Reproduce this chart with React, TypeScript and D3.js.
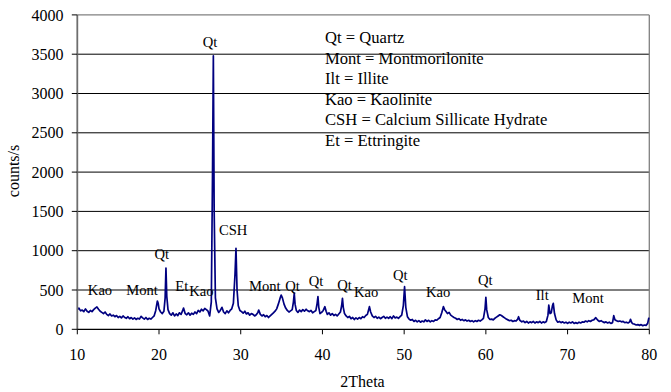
import React from "react";
import * as d3 from "d3";

// 2Theta (deg) vs counts/s
const xrdPattern: [number, number][] = [
  [10.0, 250], [10.2, 270], [10.4, 235], [10.6, 245], [10.8, 225], [11.0, 260], [11.2, 230], [11.4, 215],
  [11.6, 240], [11.8, 225], [12.0, 250], [12.2, 270], [12.4, 285], [12.6, 255], [12.8, 230], [13.0, 215],
  [13.2, 200], [13.4, 220], [13.6, 190], [13.8, 175], [14.0, 195], [14.2, 170], [14.4, 180], [14.6, 160],
  [14.8, 175], [15.0, 150], [15.2, 165], [15.4, 145], [15.6, 170], [15.8, 150], [16.0, 140], [16.2, 160],
  [16.4, 135], [16.6, 150], [16.8, 130], [17.0, 145], [17.2, 125], [17.4, 140], [17.6, 130], [17.8, 165],
  [18.0, 145], [18.2, 130], [18.4, 150], [18.6, 125], [18.8, 140], [19.0, 130], [19.2, 150], [19.4, 170],
  [19.6, 240], [19.8, 360], [19.9, 330], [20.0, 260], [20.2, 220], [20.4, 200], [20.6, 230], [20.75, 400],
  [20.85, 780], [20.95, 420], [21.1, 250], [21.3, 200], [21.5, 180], [21.7, 210], [21.9, 170], [22.1, 195],
  [22.3, 175], [22.5, 210], [22.7, 190], [22.9, 240], [23.0, 270], [23.2, 200], [23.4, 185], [23.6, 210],
  [23.8, 180], [24.0, 205], [24.2, 190], [24.4, 220], [24.6, 200], [24.8, 240], [25.0, 220], [25.2, 255],
  [25.4, 235], [25.6, 265], [25.8, 250], [26.0, 230], [26.2, 170], [26.4, 350], [26.55, 2000], [26.65, 3480],
  [26.75, 1500], [26.9, 400], [27.1, 260], [27.3, 215], [27.5, 240], [27.7, 280], [27.9, 220], [28.1, 200],
  [28.3, 235], [28.5, 210], [28.7, 240], [28.9, 260], [29.1, 330], [29.3, 700], [29.42, 1030], [29.55, 500],
  [29.7, 300], [29.9, 240], [30.1, 225], [30.3, 205], [30.5, 230], [30.7, 195], [30.9, 210], [31.1, 180],
  [31.3, 200], [31.5, 190], [31.7, 170], [31.9, 185], [32.1, 215], [32.2, 245], [32.4, 190], [32.6, 170],
  [32.8, 185], [33.0, 160], [33.2, 175], [33.4, 150], [33.6, 170], [33.8, 190], [34.0, 210], [34.2, 230],
  [34.4, 260], [34.6, 320], [34.8, 390], [34.95, 436], [35.1, 400], [35.3, 320], [35.5, 270], [35.7, 240],
  [35.9, 220], [36.1, 235], [36.3, 250], [36.45, 350], [36.55, 458], [36.65, 320], [36.8, 240], [37.0, 215],
  [37.2, 245], [37.4, 225], [37.6, 250], [37.8, 230], [38.0, 255], [38.2, 235], [38.4, 225], [38.6, 240],
  [38.8, 210], [39.0, 225], [39.2, 240], [39.35, 330], [39.45, 415], [39.55, 280], [39.7, 200], [39.9, 215],
  [40.1, 240], [40.3, 288], [40.45, 230], [40.6, 190], [40.8, 210], [41.0, 180], [41.2, 200], [41.4, 175],
  [41.6, 190], [41.8, 170], [42.0, 195], [42.2, 220], [42.35, 300], [42.45, 394], [42.55, 280], [42.7, 200],
  [42.9, 170], [43.1, 150], [43.3, 165], [43.5, 135], [43.7, 150], [43.9, 125], [44.1, 145], [44.3, 130],
  [44.5, 150], [44.7, 135], [44.9, 160], [45.1, 150], [45.3, 175], [45.5, 190], [45.75, 288], [45.9, 220],
  [46.1, 170], [46.3, 150], [46.5, 165], [46.7, 140], [46.9, 155], [47.1, 135], [47.3, 150], [47.5, 165],
  [47.7, 140], [47.9, 155], [48.1, 140], [48.3, 160], [48.5, 135], [48.7, 170], [48.9, 145], [49.1, 155],
  [49.3, 140], [49.5, 160], [49.7, 180], [49.9, 300], [50.05, 542], [50.2, 280], [50.4, 160], [50.6, 130],
  [50.8, 115], [51.0, 125], [51.2, 100], [51.4, 115], [51.6, 95], [51.8, 110], [52.0, 90], [52.2, 105],
  [52.4, 95], [52.6, 120], [52.8, 100], [53.0, 115], [53.2, 95], [53.4, 110], [53.6, 100], [53.8, 120],
  [54.0, 115], [54.2, 135], [54.4, 150], [54.6, 210], [54.8, 288], [54.95, 250], [55.1, 230], [55.3, 200],
  [55.5, 215], [55.7, 180], [55.9, 165], [56.1, 150], [56.3, 140], [56.5, 125], [56.7, 135], [56.9, 115],
  [57.1, 125], [57.3, 110], [57.5, 120], [57.7, 105], [57.9, 115], [58.1, 100], [58.3, 110], [58.5, 95],
  [58.7, 110], [58.9, 100], [59.1, 115], [59.3, 105], [59.5, 120], [59.7, 140], [59.9, 260], [60.0, 407],
  [60.1, 250], [60.3, 150], [60.5, 125], [60.7, 130], [60.9, 120], [61.1, 140], [61.3, 155], [61.5, 170],
  [61.7, 185], [61.9, 175], [62.1, 160], [62.3, 145], [62.5, 130], [62.7, 120], [62.9, 110], [63.1, 115],
  [63.3, 100], [63.5, 110], [63.7, 105], [63.9, 130], [64.0, 160], [64.15, 115], [64.4, 95], [64.6, 105],
  [64.8, 85], [65.0, 100], [65.2, 80], [65.4, 95], [65.6, 85], [65.8, 100], [66.0, 80], [66.2, 95],
  [66.4, 85], [66.6, 100], [66.8, 80], [67.0, 95], [67.2, 85], [67.4, 100], [67.6, 180], [67.7, 309],
  [67.85, 200], [68.0, 210], [68.15, 300], [68.25, 330], [68.4, 200], [68.6, 120], [68.8, 90], [69.0, 100],
  [69.2, 85], [69.4, 95], [69.6, 80], [69.8, 90], [70.0, 75], [70.2, 90], [70.4, 80], [70.6, 95],
  [70.8, 75], [71.0, 85], [71.2, 75], [71.4, 90], [71.6, 80], [71.8, 95], [72.0, 90], [72.2, 105],
  [72.4, 95], [72.6, 110], [72.8, 100], [73.0, 115], [73.2, 120], [73.45, 148], [73.7, 115], [73.9, 100],
  [74.1, 110], [74.3, 95], [74.5, 85], [74.7, 95], [74.9, 80], [75.1, 90], [75.3, 75], [75.5, 85],
  [75.65, 173], [75.8, 120], [76.0, 110], [76.2, 100], [76.4, 105], [76.6, 95], [76.8, 100], [77.0, 85],
  [77.2, 90], [77.4, 80], [77.6, 95], [77.7, 127], [77.85, 85], [78.0, 70], [78.2, 65], [78.4, 55],
  [78.6, 60], [78.8, 50], [79.0, 60], [79.2, 45], [79.4, 55], [79.6, 50], [79.8, 75], [79.95, 148],
];

const xTicks = [10, 20, 30, 40, 50, 60, 70, 80];
const yTicks = [0, 500, 1000, 1500, 2000, 2500, 3000, 3500, 4000];

// peak labels: text, 2Theta at label centre, counts at label baseline
const peakLabels: [string, number, number][] = [
  ["Qt", 26.24, 3590],
  ["CSH", 29.07, 1200],
  ["Qt", 20.33, 890],
  ["Kao", 12.78, 436],
  ["Mont", 17.93, 436],
  ["Et", 22.78, 487],
  ["Kao", 25.2, 430],
  ["Mont", 32.95, 487],
  ["Qt", 36.34, 487],
  ["Qt", 39.22, 550],
  ["Qt", 42.7, 500],
  ["Kao", 45.34, 410],
  ["Qt", 49.52, 630],
  ["Kao", 54.15, 410],
  ["Qt", 59.93, 560],
  ["Ilt", 66.9, 370],
  ["Mont", 72.5, 330],
];

const legendLines = [
  "Qt = Quartz",
  "Mont = Montmorilonite",
  "Ilt = Illite",
  "Kao = Kaolinite",
  "CSH = Calcium Sillicate Hydrate",
  "Et = Ettringite",
];

const W = 671;
const H = 392;
const plot = { left: 77.3, right: 649.3, top: 14.9, bottom: 329.3 };
const FONT = "'Liberation Serif', 'Times New Roman', serif";

export default function App() {
  const x = d3.scaleLinear().domain([10, 80]).range([plot.left, plot.right]);
  const y = d3.scaleLinear().domain([0, 4000]).range([plot.bottom, plot.top]);
  const line = d3
    .line<[number, number]>()
    .x((d) => x(d[0]))
    .y((d) => y(d[1]));

  return (
    <svg
      width={W}
      height={H}
      style={{ position: "absolute", left: 0, top: 0, background: "#fff" }}
      fontFamily={FONT}
    >
      {/* gridlines */}
      {yTicks.slice(1, -1).map((t) => (
        <line key={t} x1={plot.left} x2={plot.right} y1={y(t)} y2={y(t)} stroke="#000" strokeWidth={1} />
      ))}
      {/* plot frame (top/right) */}
      <line x1={plot.left} x2={plot.right} y1={y(4000)} y2={y(4000)} stroke="#808080" strokeWidth={1.3} />
      <line x1={plot.right} x2={plot.right} y1={plot.top} y2={plot.bottom} stroke="#808080" strokeWidth={1.3} />

      {/* data */}
      <path d={line(xrdPattern) || ""} fill="none" stroke="#000080" strokeWidth={1.7} strokeLinejoin="round" />

      {/* y axis */}
      <line x1={plot.left} x2={plot.left} y1={plot.top} y2={plot.bottom} stroke="#6e6e6e" strokeWidth={1.8} />
      {yTicks.map((t) => (
        <g key={t}>
          <line x1={plot.left - 5.5} x2={plot.left} y1={y(t)} y2={y(t)} stroke="#000" strokeWidth={1} />
          <text x={63.5} y={y(t)} dy="0.35em" textAnchor="end" fontSize={16} fill="#000">
            {t}
          </text>
        </g>
      ))}
      {/* x axis */}
      <line x1={plot.left} x2={plot.right} y1={plot.bottom} y2={plot.bottom} stroke="#000" strokeWidth={1.3} />
      {xTicks.map((t) => (
        <g key={t}>
          <line x1={x(t)} x2={x(t)} y1={plot.bottom} y2={plot.bottom + 5} stroke="#000" strokeWidth={1} />
          <text x={x(t)} y={359.5} textAnchor="middle" fontSize={16} fill="#000">
            {t}
          </text>
        </g>
      ))}

      {/* axis titles */}
      <text x={W / 2 + 27} y={387} textAnchor="middle" fontSize={16} fill="#000">
        2Theta
      </text>
      <text transform="translate(19,171) rotate(-90)" textAnchor="middle" fontSize={16} fill="#000">
        counts/s
      </text>

      {/* peak labels */}
      {peakLabels.map(([txt, tx, ty], i) => (
        <text key={i} x={x(tx)} y={y(ty)} textAnchor="middle" fontSize={14.6} fill="#000">
          {txt}
        </text>
      ))}

      {/* legend text */}
      {legendLines.map((s, i) => (
        <text key={s} x={325} y={43 + i * 20.6} fontSize={16.6} fill="#000">
          {s}
        </text>
      ))}
    </svg>
  );
}
